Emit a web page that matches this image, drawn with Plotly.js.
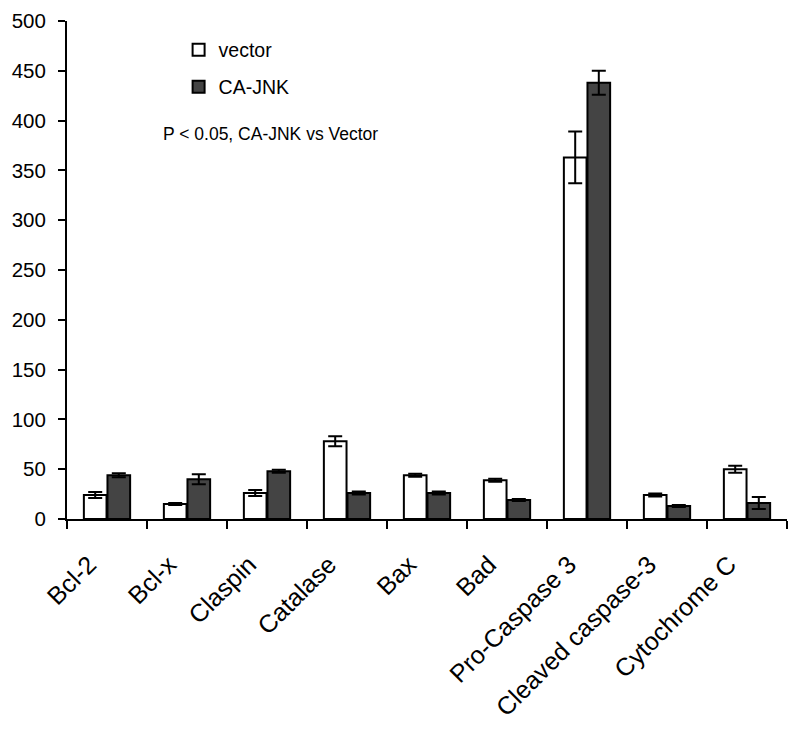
<!DOCTYPE html>
<html>
<head>
<meta charset="utf-8">
<script src="https://cdn.plot.ly/plotly-3.0.1.min.js"></script>
<style>html,body{margin:0;padding:0;background:#fff;}#chart{width:800px;height:730px;}</style>
</head>
<body>
<div id="chart"></div>
<script>
const categories = ["Bcl-2","Bcl-x","Claspin","Catalase","Bax","Bad","Pro-Caspase 3","Cleaved caspase-3","Cytochrome C"];
const vectorValues = [24, 15, 26, 78, 44, 39, 363, 24, 50];
const vectorErrors = [3, 1, 3, 5, 1.5, 1.5, 26, 1.5, 3.5];
const jnkValues = [44, 40, 48, 26, 26, 19, 438, 13, 16];
const jnkErrors = [2, 5, 1.5, 1.5, 1.5, 1, 12, 1, 6];
const yTicks = [0, 50, 100, 150, 200, 250, 300, 350, 400, 450, 500];

const errStyle = {type: "data", visible: true, color: "#000", thickness: 2, width: 7};
const traces = [
  {type: "bar", name: "vector", x: categories, y: vectorValues, legend: "legend",
   marker: {color: "#ffffff", line: {color: "#000", width: 2}},
   error_y: Object.assign({array: vectorErrors}, errStyle)},
  {type: "bar", name: "CA-JNK", x: categories, y: jnkValues, legend: "legend2",
   marker: {color: "#444444", line: {color: "#000", width: 2}},
   error_y: Object.assign({array: jnkErrors}, errStyle)}
];
const legendBase = {xanchor: "left", yanchor: "top", font: {size: 19.5}, bgcolor: "rgba(0,0,0,0)", itemwidth: 30};
const layout = {
  width: 800, height: 730,
  margin: {l: 67, r: 13, t: 21, b: 211},
  paper_bgcolor: "#fff", plot_bgcolor: "#fff",
  font: {family: "Liberation Sans, Arial, sans-serif", color: "#000", size: 19},
  barmode: "group", bargap: 0.41, bargroupgap: 0.04,
  xaxis: {type: "category", tickson: "boundaries", ticks: "outside", ticklen: 8, tickwidth: 2, tickcolor: "#000",
          showline: true, linecolor: "#000", linewidth: 2, tickangle: -45, tickfont: {size: 25},
          ticklabelstandoff: 19, ticklabelshift: -18, showgrid: false, zeroline: false, automargin: false},
  yaxis: {range: [0, 500], tickvals: yTicks, ticktext: yTicks.map(String), ticks: "outside", ticklen: 7, tickwidth: 2,
          tickcolor: "#000", showline: true, linecolor: "#000", linewidth: 2, showgrid: false, zeroline: false,
          tickfont: {size: 20.5}, ticklabelstandoff: 8, automargin: false},
  showlegend: true,
  legend: Object.assign({x: 0.155, y: 0.981}, legendBase),
  legend2: Object.assign({x: 0.155, y: 0.9066}, legendBase),
  annotations: [{xref: "paper", yref: "paper", x: 0.130, y: 0.773, xanchor: "left", yanchor: "middle",
                 text: "P < 0.05, CA-JNK vs Vector", showarrow: false, font: {size: 17.5}}]
};
Plotly.newPlot("chart", traces, layout, {displayModeBar: false, staticPlot: true});
</script>
</body>
</html>
